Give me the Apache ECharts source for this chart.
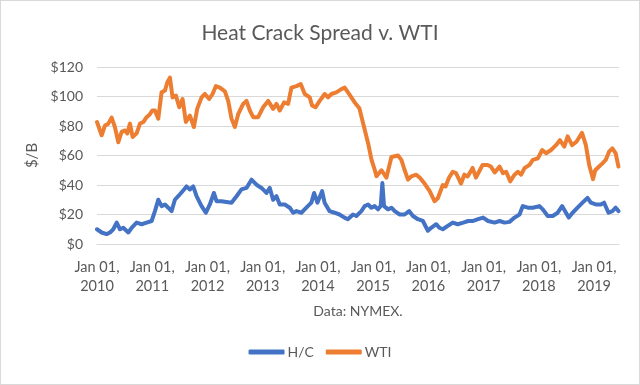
<!DOCTYPE html>
<html>
<head>
<meta charset="utf-8">
<script src="https://cdn.jsdelivr.net/npm/echarts@6/dist/echarts.min.js"></script>
<style>
html,body{margin:0;padding:0;background:#fff;}
#c{width:640px;height:385px;box-sizing:border-box;border:1px solid #d9d9d9;}
</style>
</head>
<body>
<div id="c"></div>
<script>
// Time in decimal years, values in $/B
const hcTime = [2010.0,2010.084,2010.175,2010.235,2010.295,2010.356,2010.416,2010.476,2010.567,2010.627,2010.717,2010.808,2010.898,2010.989,
2011.049,2011.109,2011.169,2011.23,2011.29,2011.35,2011.41,2011.47,2011.549,2011.621,2011.682,2011.742,2011.802,2011.893,2011.971,
2012.043,2012.116,2012.164,2012.254,2012.345,2012.435,2012.526,2012.616,2012.706,2012.797,2012.887,2012.978,
2013.068,2013.128,2013.188,2013.249,2013.309,2013.399,2013.49,2013.55,2013.61,2013.7,2013.79,2013.88,2013.93,2013.99,
2014.075,2014.12,2014.21,2014.3,2014.39,2014.48,2014.54,2014.635,2014.695,2014.786,2014.846,2014.907,2014.967,
2015.027,2015.088,2015.136,2015.166,2015.196,2015.269,2015.33,2015.39,2015.48,2015.57,2015.65,2015.72,2015.81,2015.9,2015.99,
2016.05,2016.14,2016.2,2016.26,2016.35,2016.44,2016.53,2016.63,2016.72,2016.81,2016.9,2016.99,
2017.08,2017.197,2017.288,2017.378,2017.468,2017.559,2017.649,2017.709,2017.8,2017.89,
2018.01,2018.07,2018.16,2018.25,2018.34,2018.42,2018.49,2018.54,2018.61,2018.7,2018.79,2018.88,2018.94,
2019.03,2019.12,2019.18,2019.26,2019.33,2019.39,2019.44];
const hcValues = [10,7.8,6.7,7.8,10,14.5,10,11,7.8,11,14.5,13.4,14.5,15.6,
22.3,30,25.7,26.8,24.6,22.3,30,32.4,35.8,39,37,39,32.4,25.7,21.2,
26.8,34.6,29,29,28.5,28,32.4,37,38,43.6,40.2,38,
34.6,38,30,32.4,26.8,26.8,24.6,21.2,22.3,21.2,24.6,28,34.6,28,
35.8,28,22.3,21.2,20,17.9,16.8,20,19,22.3,25.7,26.8,24.6,
25.7,23.5,25.7,41.3,25.7,23.5,24.6,22.3,20,20,22.3,19,16.8,15.6,9,
11,13.4,11,10,12.3,14.5,13.4,14.5,15.6,15.6,16.8,17.9,
15.6,14.5,15.6,14.5,15,17.9,20,25.7,24.6,24.6,
25.7,23.5,19,19,21.2,25.7,21.2,17.9,21.2,24.6,28,31.3,28,
26.8,26.8,28,21.2,22.3,24.6,22.3];

const wtiTime = [2010.0,2010.084,2010.145,2010.205,2010.265,2010.326,2010.386,2010.446,2010.506,2010.549,2010.597,2010.645,2010.717,2010.778,2010.838,2010.898,2010.958,
2011.001,2011.049,2011.109,2011.169,2011.23,2011.272,2011.32,2011.368,2011.429,2011.489,2011.549,2011.609,2011.682,2011.754,2011.814,2011.893,2011.953,
2012.031,2012.092,2012.152,2012.224,2012.315,2012.375,2012.435,2012.496,2012.556,2012.646,2012.706,2012.767,2012.827,2012.917,
2013.008,2013.098,2013.188,2013.249,2013.309,2013.387,2013.46,2013.52,2013.61,2013.688,2013.761,2013.851,2013.893,2013.954,
2014.032,2014.122,2014.183,2014.243,2014.333,2014.424,2014.484,2014.544,2014.605,2014.665,2014.75,2014.85,2014.91,2014.97,
2015.03,2015.06,2015.15,2015.24,2015.33,2015.45,2015.51,2015.57,2015.63,2015.69,2015.78,2015.85,2015.93,
2016.02,2016.11,2016.17,2016.26,2016.31,2016.37,2016.44,2016.5,2016.59,2016.65,2016.71,2016.8,2016.86,2016.93,2016.98,
2017.07,2017.13,2017.20,2017.288,2017.348,2017.408,2017.48,2017.559,2017.619,2017.679,2017.739,2017.83,2017.89,2017.981,
2018.06,2018.13,2018.22,2018.31,2018.38,2018.46,2018.52,2018.6,2018.68,2018.78,2018.85,2018.91,2018.98,
2019.02,2019.09,2019.15,2019.21,2019.27,2019.33,2019.39,2019.44];
const wtiValues = [82.7,73.7,80.4,81.6,85.7,79,69,76,77,75,81.6,72.6,75,81.6,82.7,86,88,
90.5,90.5,85,102.8,104,109.5,112.8,99.4,100.6,92.7,98.3,82.7,87,79.3,91.6,99.4,101.7,
98.3,101.7,107,106,103.5,97,85,79.3,88,95,97,90.5,86,86,
92.7,97,91.6,95,90.5,96,95,106,107,108.4,101.7,99.4,93.9,92.7,
97,101.7,99.4,101.7,102.8,105,106,102.8,99.4,96,92,77,68,57,
50,46,50,45,59,60,57,50,43.6,45.8,47,44.7,41,
36,29,31,40,39,44.7,49,48,41,47,45.8,51.6,45,50,53.6,
53.6,52.5,48.5,52.5,48,49,42.5,47,49,47,51.4,53.6,57,58,
63.7,61.5,63.7,67,70.4,66,73,67,69.3,75.3,67,53.6,44,
50,52.5,54.7,57,62.6,64.8,61.5,52.5];

const yearTicks = [2010,2011,2012,2013,2014,2015,2016,2017,2018,2019];
const seriesNames = ['H/C','WTI'];

const FONT = 'Lato, "Open Sans", sans-serif';
const hcData = hcTime.map((t,i)=>[t,hcValues[i]]);
const wtiData = wtiTime.map((t,i)=>[t,wtiValues[i]]);

const chart = echarts.init(document.getElementById('c'), null, {renderer:'canvas'});
chart.setOption({
  animation:false,
  backgroundColor:'#fff',
  title:{
    text:'Heat Crack Spread v. WTI',
    left:'center', top:17,
    textStyle:{fontFamily:FONT,fontSize:21,fontWeight:'normal',color:'#595959'}
  },
  legend:{
    data:seriesNames,
    bottom:20, left:'center',
    icon:'roundRect', itemWidth:36, itemHeight:5, itemGap:12,
    textStyle:{fontFamily:FONT,fontSize:14,color:'#595959',padding:[0,0,0,-2]}
  },
  grid:{left:96,right:20,top:66,bottom:140,containLabel:false},
  xAxis:{
    type:'value', min:2010, max:2019.45, interval:1,
    name:'Data: NYMEX.', nameLocation:'middle', nameGap:60,
    nameTextStyle:{fontFamily:FONT,fontSize:14,color:'#595959'},
    axisLine:{show:true,lineStyle:{color:'#d9d9d9',width:1}},
    axisTick:{show:false},
    splitLine:{show:false},
    axisLabel:{
      fontFamily:FONT,fontSize:14.5,color:'#595959',lineHeight:19,margin:14,
      showMaxLabel:false,
      formatter:function(v){ return yearTicks.indexOf(v)>=0 ? 'Jan 01,\n'+v : ''; }
    }
  },
  yAxis:{
    type:'value', min:0, max:120, interval:20,
    name:'$/B', nameLocation:'middle', nameGap:56,
    nameTextStyle:{fontFamily:FONT,fontSize:15,color:'#595959'},
    axisLine:{show:false}, axisTick:{show:false},
    splitLine:{lineStyle:{color:'#d9d9d9',width:1}},
    axisLabel:{fontFamily:FONT,fontSize:14,color:'#595959',margin:14,
      formatter:function(v){return '$'+v;}}
  },
  series:[
    {name:seriesNames[0],type:'line',data:hcData,showSymbol:false,symbol:'none',
     lineStyle:{color:'#4472C4',width:4,join:'round',cap:'round'},itemStyle:{color:'#4472C4'}},
    {name:seriesNames[1],type:'line',data:wtiData,showSymbol:false,symbol:'none',
     lineStyle:{color:'#ED7D31',width:4,join:'round',cap:'round'},itemStyle:{color:'#ED7D31'}}
  ]
});
</script>
</body>
</html>
